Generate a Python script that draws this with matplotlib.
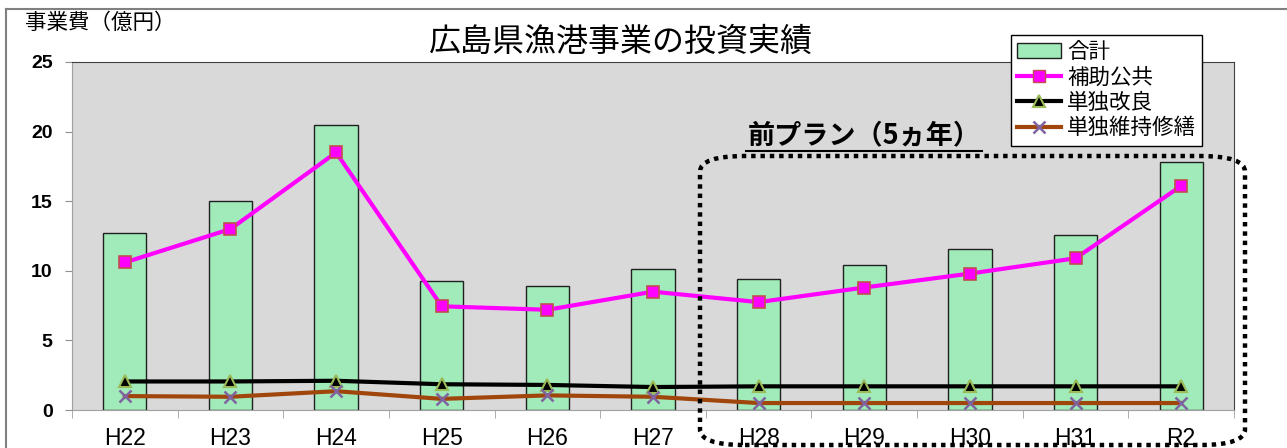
import numpy as np
import matplotlib
matplotlib.use("Agg")
import matplotlib.pyplot as plt
from matplotlib.patches import FancyBboxPatch, Patch
from matplotlib.lines import Line2D

plt.rcParams['font.family'] = ['Noto Sans CJK JP', 'DejaVu Sans']

years = ['H22', 'H23', 'H24', 'H25', 'H26', 'H27', 'H28', 'H29', 'H30', 'H31', 'R2']
total = [12.7, 15.0, 20.5, 9.3, 8.9, 10.1, 9.4, 10.4, 11.6, 12.6, 17.8]
hojo_kokyo = [10.6, 13.0, 18.5, 7.45, 7.2, 8.5, 7.75, 8.8, 9.8, 10.9, 16.1]
tandoku_kairyo = [2.05, 2.05, 2.1, 1.85, 1.8, 1.65, 1.7, 1.7, 1.7, 1.7, 1.7]
tandoku_iji = [1.0, 0.95, 1.35, 0.8, 1.05, 0.95, 0.5, 0.5, 0.5, 0.5, 0.5]

W, H = 1287, 448
fig = plt.figure(figsize=(W / 100, H / 100), dpi=100)
ax = fig.add_axes([72 / W, 1 - 410 / H, (1234 - 72) / W, (410 - 62) / H])
ax.set_facecolor('#D9D9D9')

x = np.arange(len(years))
ax.bar(x, total, width=0.41, color='#A0EBB9', edgecolor='#202020', linewidth=1.0, zorder=2)
ax.plot(x, hojo_kokyo, color='#FF00FF', lw=3, marker='s', ms=8.5,
        mfc='#FF00FF', mec='#C0504D', mew=1.2, zorder=4)
ax.plot(x, tandoku_kairyo, color='black', lw=3, marker='^', ms=8.5,
        mfc='black', mec='#9BBB59', mew=1.5, zorder=3)
ax.plot(x, tandoku_iji, color='#A0460C', lw=3, marker='x', ms=8,
        mec='#8064A2', mew=1.8, zorder=3)

ax.set_xlim(-0.5, len(years) - 0.5)
ax.set_ylim(0, 25)
ax.set_yticks([0, 5, 10, 15, 20, 25])
ax.set_yticklabels(['0', '5', '10', '15', '20', '25'],
                   fontfamily='Liberation Sans', fontweight='bold', fontsize=14)
ax.tick_params(axis='y', length=5, color='#909090', pad=9)

ax.set_xticks(x)
ax.set_xticklabels(years, fontfamily='Liberation Sans', fontsize=16.5)
ax.set_xticks(np.arange(-0.5, len(years)), minor=True)
ax.tick_params(axis='x', which='major', length=0, pad=12)
ax.tick_params(axis='x', which='minor', length=6, color='#A0A0A0')

for side in ['left', 'bottom']:
    ax.spines[side].set_color('#A0A0A0')
for side in ['top', 'right']:
    ax.spines[side].set_color('#404040')

# outer frame of the chart area
fig.add_artist(Line2D([6 / W, 1], [1 - 9 / H, 1 - 9 / H], transform=fig.transFigure,
                      color='#808080', lw=1.5))
fig.add_artist(Line2D([6 / W, 6 / W], [0, 1 - 9 / H], transform=fig.transFigure,
                      color='#808080', lw=1.5))

fig.text(25 / W, 1 - 23 / H, '事業費（億円）', fontsize=15.5, va='center', ha='left')
fig.text(621 / W, 1 - 42 / H, '広島県漁港事業の投資実績', fontsize=23, va='center', ha='center')

# previous plan period box
box = FancyBboxPatch((700 / W, 1 - 445 / H), (1245 - 700) / W, (445 - 156) / H,
                     boxstyle='round,pad=0,rounding_size=0.035',
                     transform=fig.transFigure, fill=False, edgecolor='black',
                     lw=3.2, linestyle=(0, (1, 1.1)), zorder=5)
fig.add_artist(box)
fig.text(864 / W, 1 - 135 / H, '前プラン（5ヵ年）', fontsize=19.5, fontweight='bold',
         va='center', ha='center')
fig.add_artist(Line2D([746 / W, 982 / W], [1 - 151 / H, 1 - 151 / H],
                      transform=fig.transFigure, color='black', lw=1.5))

handles = [
    Patch(facecolor='#A0EBB9', edgecolor='#202020', lw=1.0),
    Line2D([], [], color='#FF00FF', lw=3, marker='s', ms=8.5, mfc='#FF00FF', mec='#C0504D'),
    Line2D([], [], color='black', lw=3, marker='^', ms=8.5, mfc='black', mec='#9BBB59', mew=1.5),
    Line2D([], [], color='#A0460C', lw=3, marker='x', ms=8, mec='#8064A2', mew=1.8),
]
labels = ['合計', '補助公共', '単独改良', '単独維持修繕']
leg = fig.legend(handles, labels, loc='upper left',
                 bbox_to_anchor=(1011 / W, 1 - 35 / H), bbox_transform=fig.transFigure,
                 fontsize=15.5, frameon=True, fancybox=False, framealpha=1,
                 edgecolor='black', handlelength=2.0, labelspacing=0.15,
                 borderpad=0.3, handletextpad=0.3, borderaxespad=0)
leg.get_frame().set_linewidth(1.0)
leg.set_zorder(6)

fig.savefig('out.png', dpi=100)
